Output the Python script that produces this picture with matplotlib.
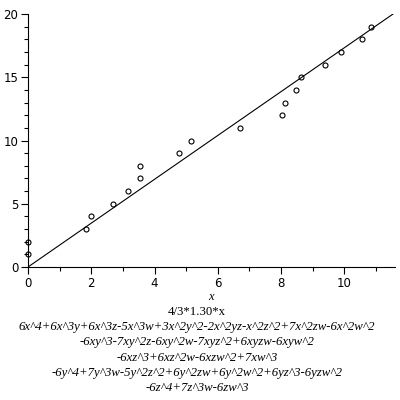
import numpy as np
import matplotlib.pyplot as plt
from matplotlib.ticker import MultipleLocator

# data points
px = [0.0, 0.0, 1.84, 2.0, 2.7, 3.16, 3.55, 3.55, 4.78, 5.16,
      6.71, 8.04, 8.11, 8.46, 8.63, 9.4, 9.9, 10.57, 10.83]
py = [1, 2, 3, 4, 5, 6, 7, 8, 9, 10,
      11, 12, 13, 14, 15, 16, 17, 18, 19]
slope = 4 / 3 * 1.30
x_max = 11.6

caption = ["4/3*1.30*x",
           "6x^4+6x^3y+6x^3z-5x^3w+3x^2y^2-2x^2yz-x^2z^2+7x^2zw-6x^2w^2",
           "-6xy^3-7xy^2z-6xy^2w-7xyz^2+6xyzw-6xyw^2",
           "-6xz^3+6xz^2w-6xzw^2+7xw^3",
           "-6y^4+7y^3w-5y^2z^2+6y^2zw+6y^2w^2+6yz^3-6yzw^2",
           "-6z^4+7z^3w-6zw^3"]

fig = plt.figure(figsize=(4, 4), dpi=100)
ax = fig.add_axes([0.07, 0.3325, 0.9175, 0.6325])

lx = np.array([0, x_max])
ax.plot(lx, slope * lx, color='black', lw=0.8)
ax.plot(px, py, 'o', mfc='none', mec='black', ms=3.6, mew=0.8, clip_on=False)

ax.set_xlim(0, x_max)
ax.set_ylim(0, 20)
ax.spines['top'].set_visible(False)
ax.spines['right'].set_visible(False)
ax.spines['left'].set_linewidth(0.8)
ax.spines['bottom'].set_linewidth(0.8)
ax.xaxis.set_major_locator(MultipleLocator(2))
ax.xaxis.set_minor_locator(MultipleLocator(1))
ax.yaxis.set_major_locator(MultipleLocator(5))
ax.yaxis.set_minor_locator(MultipleLocator(1))
ax.tick_params(which='major', length=5, width=0.8, labelsize=8.5, pad=2)
ax.tick_params(which='minor', length=3, width=0.8)

fig.text(0.527, 1 - 297 / 400, "x", ha='center', va='center',
         family='Liberation Serif', style='italic', fontsize=9)
for i, line in enumerate(caption):
    st = 'normal' if i == 0 else 'italic'
    fig.text(0.493, 1 - (312 + 15.2 * i) / 400, line, ha='center', va='center',
             family='Liberation Serif', style=st, fontsize=9.2)

fig.savefig('out.png', dpi=100)
